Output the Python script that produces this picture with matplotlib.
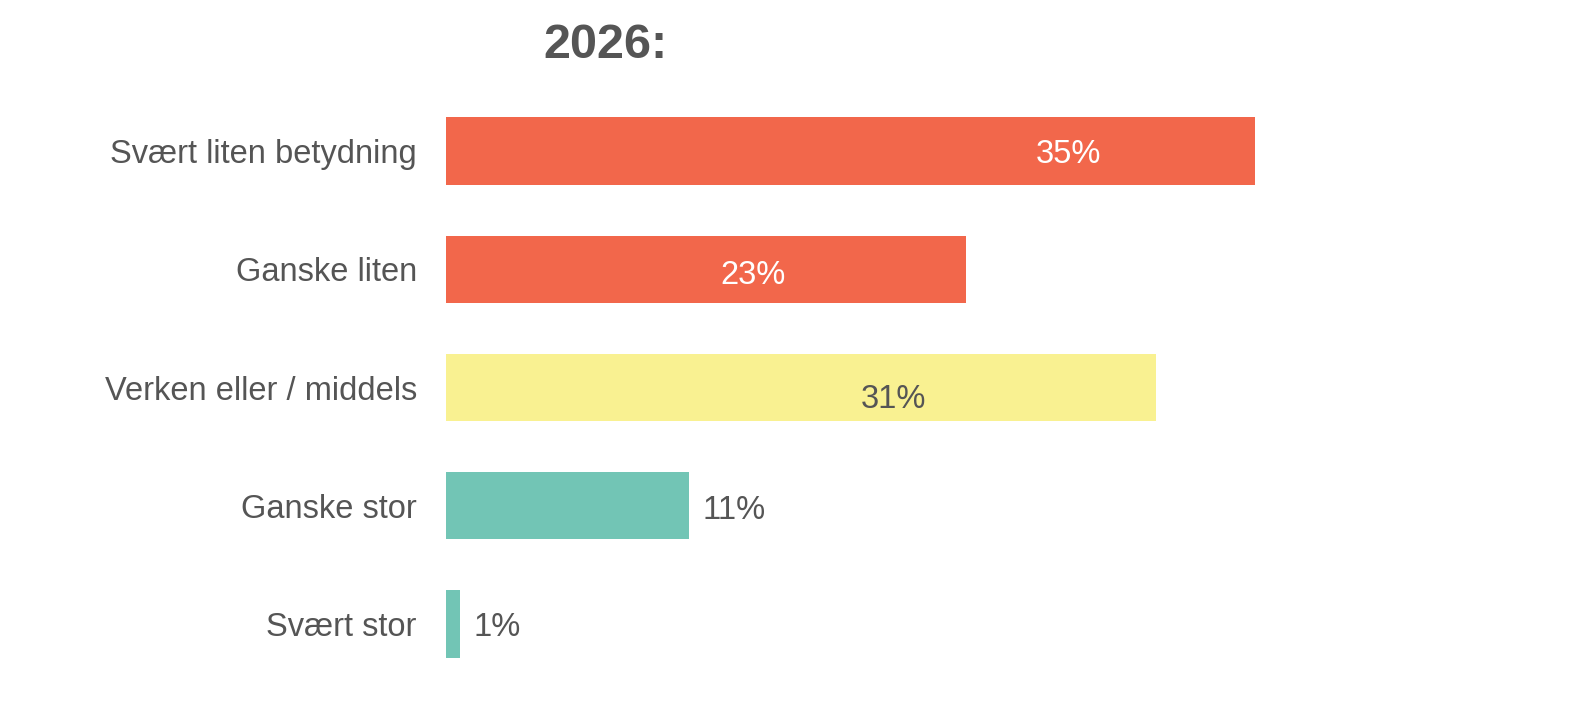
import numpy as np
import matplotlib
matplotlib.use('Agg')
from matplotlib import pyplot as plt

plt.rcParams['font.family'] = ['Liberation Sans', 'DejaVu Sans']

# data
categories = ['Svært liten betydning', 'Ganske liten', 'Verken eller / middels', 'Ganske stor', 'Svært stor']
values = [35.0, 22.5, 30.7, 10.5, 0.6]
value_labels = ['35%', '23%', '31%', '11%', '1%']
bar_colors = ['#F2674B', '#F2674B', '#F9F191', '#72C5B5', '#72C5B5']

# where the labels sit: fraction of the bar for inside labels, None = outside
label_frac = [0.77, 0.59, 0.63, None, None]
label_colors = ['white', 'white', '#555555', '#555555', '#555555']
label_dy = [-0.025, -0.05, -0.1, -0.04, -0.03]

text_col = '#555555'

fig = plt.figure(figsize=(15.71, 7.15), dpi=100)
ax = fig.add_axes([446 / 1571, 1 - 683 / 715, (1486 - 446) / 1571, (683 - 92) / 715])

y = np.arange(len(categories))
ax.barh(y, values, height=0.57, color=bar_colors)
ax.set_ylim(len(categories) - 0.5, -0.5)
ax.set_xlim(0, 45)

ax.set_yticks(y)
ax.set_yticklabels(categories, fontsize=23.5, color=text_col)
ax.tick_params(axis='y', length=0, pad=21)
ax.set_xticks([])
for s in ax.spines.values():
    s.set_visible(False)

for i, (v, lab) in enumerate(zip(values, value_labels)):
    if label_frac[i] is not None:
        ax.text(v * label_frac[i], i - label_dy[i], lab, ha='center', va='center',
                fontsize=23.5, color=label_colors[i])
    else:
        ax.annotate(lab, (v, i - label_dy[i]), xytext=(10, 0), textcoords='offset points',
                    ha='left', va='center', fontsize=23.5, color=label_colors[i])

fig.text(605 / 1571, 1 - 45 / 715, '2026:', ha='center', va='center',
         fontsize=35, fontweight='bold', color=text_col)

plt.savefig('out.png', dpi=100)
